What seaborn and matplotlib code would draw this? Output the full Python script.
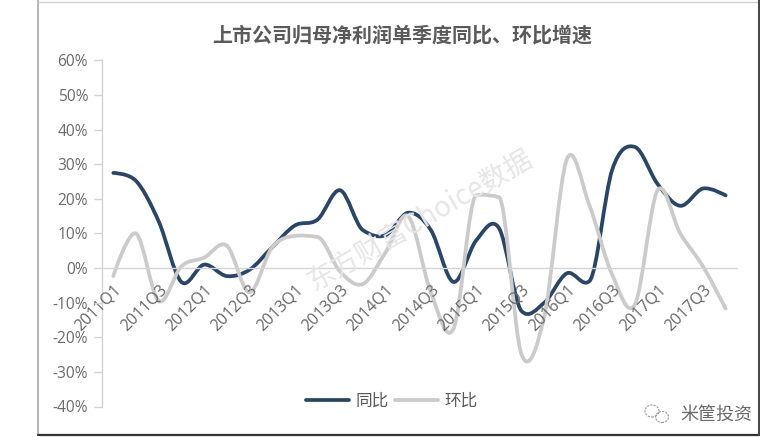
import matplotlib
matplotlib.use("Agg")
import matplotlib.pyplot as plt
import numpy as np
import pandas as pd
import seaborn as sns
from matplotlib.lines import Line2D
from matplotlib.patches import Ellipse
from matplotlib.path import Path
from matplotlib.patheffects import AbstractPathEffect

quarters = [f"{y}Q{q}" for y in range(2011, 2018) for q in range(1, 5)]
yoy = [27.5, 25.2, 13.5, -4, 1, -2.3, -0.5, 6, 12.3, 14, 22.5, 11, 9.5, 16,
       11, -4, 8, 11.6, -12.4, -10, -1.5, -3.7, 28.5, 35, 24.3, 18, 23, 21]
qoq = [-2.3, 10, -9.5, 0.5, 3, 6.5, -7, 6, 9.3, 9, -1, -4.6, 4.5, 15,
       -7, -17.5, 21, 20.5, -25, -14, 31.5, 18, -2, -10.5, 22.5, 10, 0.5, -11.7]
yticks = list(range(-40, 70, 10))
title = "上市公司归母净利润单季度同比、环比增速"
watermark = "东方财富Choice数据"
brand = "米筐投资"

W, H = 780, 437


class SmoothCurve(AbstractPathEffect):
    """Renders a line's own vertices as a smooth curve, as a spreadsheet's smoothed line does."""

    def draw_path(self, renderer, gc, tpath, affine, rgbFace=None):
        v = np.asarray(tpath.vertices)
        if len(v) < 3:
            renderer.draw_path(gc, tpath, affine, rgbFace)
            return
        tan = np.zeros_like(v)
        tan[1:-1] = (v[2:] - v[:-2]) / 6
        dy = np.abs(np.diff(v[:, 1]))
        limit = np.minimum(dy[:-1], dy[1:])
        tan[1:-1, 1] = np.clip(tan[1:-1, 1], -limit, limit)
        verts = [v[0]]
        codes = [Path.MOVETO]
        for i in range(len(v) - 1):
            verts += [v[i] + tan[i], v[i + 1] - tan[i + 1], v[i + 1]]
            codes += [Path.CURVE4] * 3
        renderer.draw_path(gc, Path(np.array(verts), codes), affine, rgbFace)


sns.set_theme(style="white")
plt.rcParams["font.family"] = ["Open Sans", "Noto Sans CJK SC", "DejaVu Sans"]
cjk = ["Noto Sans CJK SC", "DejaVu Sans"]

fig = plt.figure(figsize=(W / 100, H / 100), dpi=100, facecolor="white")
left, right, top, bottom = 102, 737, 60.5, 406.5
ax = fig.add_axes([left / W, 1 - bottom / H, (right - left) / W, (bottom - top) / H])
ax.set_facecolor("none")

df = pd.DataFrame({"q": quarters * 2, "v": yoy + qoq,
                   "s": ["同比"] * len(yoy) + ["环比"] * len(qoq)})
sns.lineplot(data=df, x="q", y="v", hue="s", hue_order=["同比", "环比"],
             palette={"同比": "#2b4566", "环比": "#cbcbcb"}, errorbar=None, ax=ax,
             linewidth=2.7, solid_capstyle="round", solid_joinstyle="round")
for ln in ax.lines:
    ln.set_path_effects([SmoothCurve()])

ax.set_xlim(-0.5, 27.5)
ax.set_ylim(-40, 60)
ax.set_xlabel("")
ax.set_ylabel("")
ax.set_axisbelow(False)

for s in ("top", "right"):
    ax.spines[s].set_visible(False)
ax.spines["left"].set_color("#d4d4d4")
ax.spines["left"].set_linewidth(1)
ax.spines["bottom"].set_position(("data", 0))
ax.spines["bottom"].set_color("#d4d4d4")
ax.spines["bottom"].set_linewidth(1)

ax.set_yticks(yticks)
ax.set_yticklabels([f"{v}%" for v in yticks])
ax.tick_params(axis="y", length=6, width=1, color="#d4d4d4", pad=4,
               labelsize=11.2, labelcolor="#6b6b6b", left=True)
ax.set_xticks(range(0, len(quarters), 2))
ax.set_xticklabels(quarters[::2], rotation=45, ha="right", va="top",
                   rotation_mode="anchor", fontsize=11.5, color="#666666")
ax.tick_params(axis="x", length=0, pad=10, bottom=False)

handles, labels = ax.get_legend_handles_labels()
leg = ax.legend(handles, labels, ncol=2, frameon=False, loc="center",
                bbox_to_anchor=((392 - left) / (right - left), (bottom - 401) / (bottom - top)),
                prop={"family": cjk, "size": 12}, labelcolor="#595959",
                handlelength=2.6, handletextpad=0.4, columnspacing=0.35)
for h in leg.get_lines():
    h.set_path_effects([])

fig.text(402 / W, 1 - 35 / H, title, family=cjk, fontsize=14.4, fontweight="bold",
         color="#5a5a5a", ha="center", va="center")
fig.text(420 / W, 1 - 221 / H, watermark, family=cjk, fontsize=20, rotation=30,
         color="#e6e6e6", ha="center", va="center", zorder=0)
fig.text(716 / W, 1 - 415 / H, brand, family=cjk, fontsize=13, color="#6a6a6a",
         ha="center", va="center")

for (cx, cy, ew, eh) in [(652, 411, 14, 12), (662, 417, 13, 11)]:
    fig.add_artist(Ellipse((cx / W, 1 - cy / H), ew / W, eh / H, transform=fig.transFigure,
                           fill=False, edgecolor="#9a9a9a", linewidth=0.8, linestyle=(0, (2, 1))))

for xs, ys, col, lw in [([38, 38], [0, 435], "#a8a8a8", 1.2),
                        ([38, 759], [2, 2], "#d0d0d0", 1.0),
                        ([38, 759], [435, 435], "#333333", 1.6),
                        ([759, 759], [0, 435], "#444444", 1.4)]:
    fig.add_artist(Line2D(np.array(xs) / W, 1 - np.array(ys) / H, color=col, linewidth=lw,
                          transform=fig.transFigure))

fig.savefig("out.png", dpi=100)
